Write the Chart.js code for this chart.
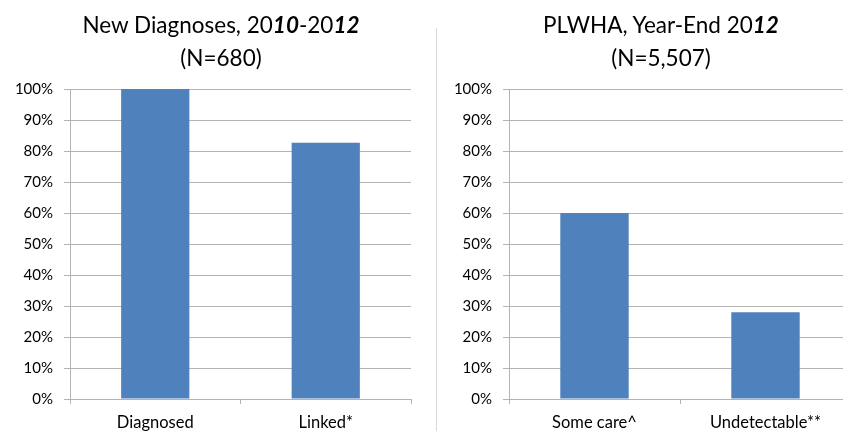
<!DOCTYPE html>
<html>
<head>
<meta charset="utf-8">
<script src="https://cdn.jsdelivr.net/npm/chart.js@4/dist/chart.umd.min.js"></script>
<style>
  html, body { margin: 0; padding: 0; background: #fff; overflow: hidden; }
  body { width: 843px; height: 431px; position: relative; font-family: Lato, sans-serif; color: #000; }
  .panel { position: absolute; top: 0; height: 431px; }
  .title { position: absolute; top: 8px; text-align: center; font-size: 22.5px; line-height: 33px; }
  .divider { position: absolute; left: 436px; top: 28px; width: 1px; height: 403px; background: #d9d9d9; }
</style>
</head>
<body>
<div class="panel" style="left:0;width:437px">
  <canvas id="leftChart" width="437" height="431"></canvas>
</div>
<div class="title" style="left:0;width:442px">New Diagnoses, 20<b><i>10</i></b>-20<b><i>12</i></b><br>(N=680)</div>
<div class="divider"></div>
<div class="panel" style="left:437px;width:420px">
  <canvas id="rightChart" width="420" height="431"></canvas>
</div>
<div class="title" style="left:437px;width:448px">PLWHA, Year-End 20<b><i>12</i></b><br>(N=5,507)</div>

<script>
// données
const leftCategories = ['Diagnosed', 'Linked*'];
const leftValues = [100, 82.7];
const rightCategories = ['Some care^', 'Undetectable**'];
const rightValues = [60, 28];
const yTickValues = [0, 10, 20, 30, 40, 50, 60, 70, 80, 90, 100];

const gridColor = '#b4b4b4';
const barColor = '#4f81bd';

function makeChart(id, labels, values, padLeft, padRight) {
    const ctx = document.getElementById(id).getContext('2d');
    return new Chart(ctx, {
        type: 'bar',
        data: {
            labels: labels,
            datasets: [{
                data: values,
                backgroundColor: barColor,
                borderWidth: 0,
                barPercentage: 0.4,
                categoryPercentage: 1
            }]
        },
        options: {
            responsive: false,
            animation: false,
            layout: { padding: { top: 89, left: padLeft, right: padRight, bottom: 0 } },
            plugins: { legend: { display: false }, tooltip: { enabled: false } },
            scales: {
                x: {
                    grid: { drawOnChartArea: false, drawTicks: true, tickLength: 5, color: gridColor },
                    border: { color: gridColor },
                    ticks: { color: '#000', font: { family: 'Lato', size: 16.5 }, padding: 9 },
                    afterFit: (axis) => { axis.height = 32; }
                },
                y: {
                    min: 0,
                    max: 100,
                    afterBuildTicks: (axis) => { axis.ticks = yTickValues.map(v => ({ value: v })); },
                    grid: { color: gridColor, tickLength: 6 },
                    border: { color: gridColor },
                    ticks: { color: '#000', font: { family: 'Lato', size: 15 }, padding: 11,
                             callback: (v) => v + '%' },
                    afterFit: (axis) => { axis.width = 58; }
                }
            }
        }
    });
}

makeChart('leftChart', leftCategories, leftValues, 12, 26);
makeChart('rightChart', rightCategories, rightValues, 14, 6);
</script>
</body>
</html>
